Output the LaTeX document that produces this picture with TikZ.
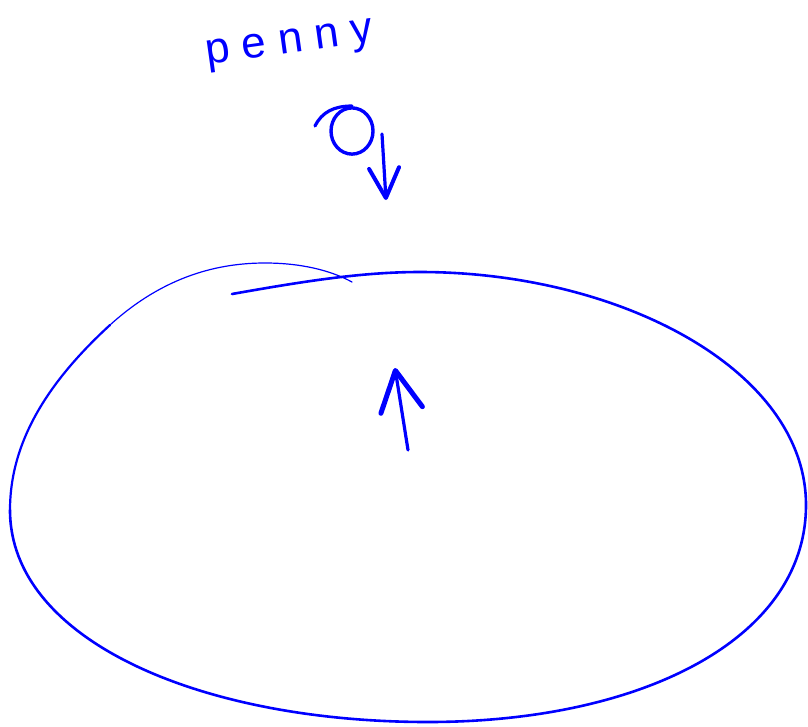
\documentclass[tikz,border=0pt]{standalone}
\usepackage{fontspec}
\newfontfamily\handfont[LetterSpace=28]{Liberation Sans}
\usetikzlibrary{arrows.meta,positioning}
\tikzset{
  pen/.style={draw=blue, line width=2.6pt, line cap=round, line join=round},
  thinpen/.style={draw=blue, line width=1.2pt, line cap=round},
  lbl/.style={text=blue, font=\handfont\fontsize{44}{44}\selectfont},
  coin/.style={circle, draw=blue, line width=3.4pt, minimum size=42pt, inner sep=0pt},
  ar/.style={-{Straight Barb[length=30pt, width=30pt, line width=4pt 0, round]}, draw=blue, line width=3.2pt, line cap=round, line join=round},
}

\begin{document}
\begin{tikzpicture}[x=1pt, y=-1pt]
\useasboundingbox (0,0) rectangle (808,726);
\node[lbl, rotate=8] (penny) at (290,46) {penny};
\node[coin, yscale=1.1] (coin) at (352,131) {};
\draw[pen, line width=3.2pt] (315,126) .. controls (322,112) and (334,106) .. (coin.north);
\coordinate (fallstart) at (382,134);
\coordinate (fallend) at (386,200);
\draw[ar] (fallstart) -- (fallend);
% earth
\draw[pen] (232,294) .. controls (300,282) and (360,272) .. (420,272)
  .. controls (620,272) and (806,370) .. (806,505)
  .. controls (806,640) and (640,722) .. (428,722)
  .. controls (200,722) and (10,640) .. (10,510)
  coordinate (earthwest);
\draw[pen, line width=2.2pt] (earthwest) .. controls (10,440) and (50,380) .. (110,325) coordinate (earthnw);
\draw[thinpen] (earthnw) .. controls (165,275) and (220,263) .. (265,263)
  .. controls (300,263) and (330,270) .. (352,282);
\coordinate (pushstart) at (408,450);
\coordinate (pushend) at (395,368);
\draw[ar, -{Straight Barb[length=40pt, width=42pt, line width=5pt 0, round]}] (pushstart) -- (pushend);
\end{tikzpicture}
\end{document}
